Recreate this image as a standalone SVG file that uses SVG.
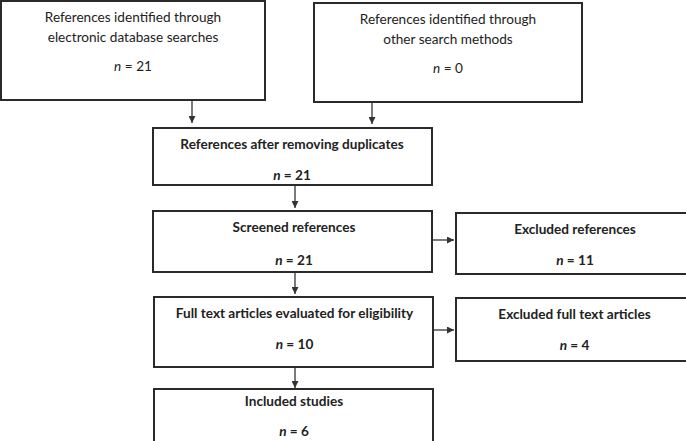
<svg xmlns="http://www.w3.org/2000/svg" width="686" height="441" viewBox="0 0 686 441">
<style>
.box{fill:#fff;stroke:#2a2a2a;stroke-width:2}
.t{font-family:Lato,"Open Sans","Liberation Sans",sans-serif;font-size:13.6px;fill:#222;text-anchor:middle}
.b{font-weight:bold}
.r{font-weight:normal}
.c{stroke:#333;stroke-width:1.3;fill:none;marker-end:url(#ah)}
</style>
<defs>
<marker id="ah" viewBox="0 0 10 10" refX="10" refY="5" markerWidth="8" markerHeight="7" markerUnits="userSpaceOnUse" orient="auto">
<path d="M0,0 L10,5 L0,10 z" fill="#333"/>
</marker>
</defs>
<g id="connectors">
<line class="c" x1="192" y1="100" x2="192" y2="123"/>
<line class="c" x1="372" y1="102" x2="372" y2="124"/>
<line class="c" x1="295" y1="185" x2="295" y2="208"/>
<line class="c" x1="295" y1="272" x2="295" y2="294"/>
<line class="c" x1="295" y1="367" x2="295" y2="388"/>
<line class="c" x1="432" y1="240" x2="454" y2="240"/>
<line class="c" x1="433" y1="330" x2="454" y2="330"/>
</g>
<g id="n1">
<rect class="box" x="1" y="1" width="264" height="99"/>
<text class="t r" x="133" y="22">References identified through</text>
<text class="t r" x="133" y="42">electronic database searches</text>
<text class="t r" x="133" y="71"><tspan font-style="italic">n</tspan> = 21</text>
</g>
<g id="n2">
<rect class="box" x="314" y="3" width="268" height="99"/>
<text class="t r" x="448" y="24">References identified through</text>
<text class="t r" x="448" y="44">other search methods</text>
<text class="t r" x="448" y="73"><tspan font-style="italic">n</tspan> = 0</text>
</g>
<g id="n3">
<rect class="box" x="153" y="128" width="279" height="57"/>
<text class="t b" x="292" y="149">References after removing duplicates</text>
<text class="t b" x="292" y="180"><tspan font-style="italic">n</tspan> = 21</text>
</g>
<g id="n4">
<rect class="box" x="153" y="211" width="279" height="61"/>
<text class="t b" x="294" y="232">Screened references</text>
<text class="t b" x="294" y="265"><tspan font-style="italic">n</tspan> = 21</text>
</g>
<g id="n5">
<rect class="box" x="456" y="213" width="238" height="61"/>
<text class="t b" x="575" y="234">Excluded references</text>
<text class="t b" x="575" y="265"><tspan font-style="italic">n</tspan> = 11</text>
</g>
<g id="n6">
<rect class="box" x="154" y="297" width="279" height="70"/>
<text class="t b" x="294.5" y="318">Full text articles evaluated for eligibility</text>
<text class="t b" x="294.5" y="349"><tspan font-style="italic">n</tspan> = 10</text>
</g>
<g id="n7">
<rect class="box" x="456" y="298" width="238" height="63"/>
<text class="t b" x="574.5" y="319">Excluded full text articles</text>
<text class="t b" x="574.5" y="350"><tspan font-style="italic">n</tspan> = 4</text>
</g>
<g id="n8">
<rect class="box" x="154" y="389" width="279" height="56"/>
<text class="t b" x="294" y="406">Included studies</text>
<text class="t b" x="294" y="436"><tspan font-style="italic">n</tspan> = 6</text>
</g>
</svg>
